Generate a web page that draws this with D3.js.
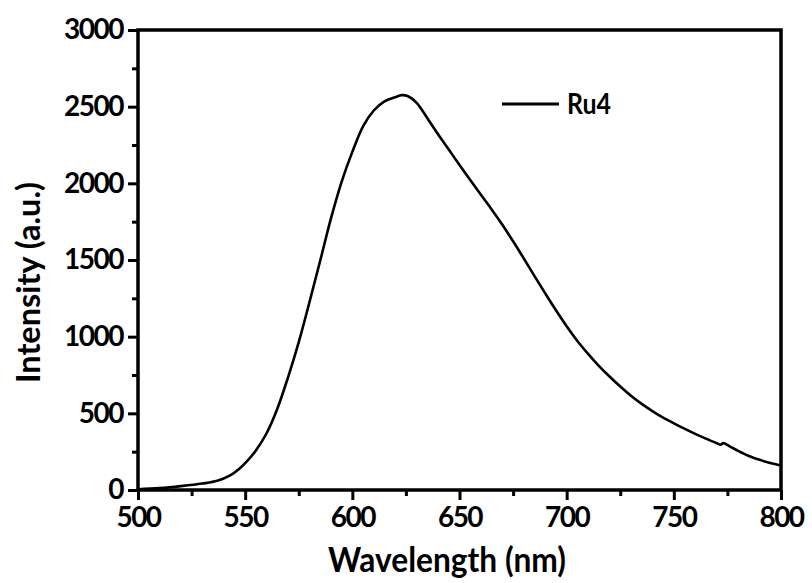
<!DOCTYPE html>
<html>
<head>
<meta charset="utf-8">
<script src="https://cdn.jsdelivr.net/npm/d3@7"></script>
<style>
  body { margin: 0; background: #fff; }
  text { font-family: Lato, "Open Sans", sans-serif; font-weight: bold; fill: #000; }
</style>
</head>
<body>
<svg id="chart" width="812" height="583"></svg>
<script>
// emission spectrum of Ru4
const wavelength = [500, 510, 520, 530, 537, 543, 547, 551, 555, 560, 565, 570, 575, 580, 585, 590, 595, 600, 605, 610, 615, 620, 623, 626, 630, 635, 640, 645, 650, 655, 660, 665, 670, 675, 680, 685, 690, 695, 700, 705, 710, 715, 720, 725, 730, 735, 740, 745, 750, 755, 760, 765, 770, 772, 773, 776, 780, 785, 790, 795, 800];
const intensity = [5, 12, 25, 42, 60, 95, 135, 190, 258, 370, 530, 735, 965, 1225, 1495, 1770, 2010, 2205, 2372, 2475, 2535, 2562, 2575, 2568, 2525, 2425, 2320, 2220, 2120, 2022, 1925, 1830, 1730, 1622, 1510, 1395, 1282, 1172, 1068, 972, 888, 810, 740, 675, 615, 562, 515, 472, 435, 400, 366, 335, 305, 296, 306, 285, 255, 222, 197, 176, 160];
const xTicks = [500, 550, 600, 650, 700, 750, 800];
const xMinor = [525, 575, 625, 675, 725, 775];
const yTicks = [0, 500, 1000, 1500, 2000, 2500, 3000];
const yMinor = [250, 750, 1250, 1750, 2250, 2750];
const seriesName = "Ru4";

const data = wavelength.map((w, i) => ({ w: w, v: intensity[i] }));

const margin = { top: 30, right: 31, bottom: 93, left: 138 };
const width = 812 - margin.left - margin.right;
const height = 583 - margin.top - margin.bottom;

const svg = d3.select("#chart")
  .append("g")
  .attr("transform", "translate(" + margin.left + "," + margin.top + ")");

const x = d3.scaleLinear().domain([500, 800]).range([0, width]);
const y = d3.scaleLinear().domain([0, 3000]).range([height, 0]);

// minor ticks
svg.append("g")
  .attr("transform", "translate(0," + height + ")")
  .call(d3.axisBottom(x).tickValues(xMinor).tickSize(6).tickFormat(""))
  .call((g) => g.select(".domain").remove())
  .selectAll("line").attr("stroke-width", 3);
svg.append("g")
  .call(d3.axisLeft(y).tickValues(yMinor).tickSize(6).tickFormat(""))
  .call((g) => g.select(".domain").remove())
  .selectAll("line").attr("stroke-width", 3);

// major ticks + labels
const xAxis = svg.append("g")
  .attr("transform", "translate(0," + height + ")")
  .call(d3.axisBottom(x).tickValues(xTicks).tickFormat(d3.format("d")).tickSize(10).tickPadding(7));
const yAxis = svg.append("g")
  .call(d3.axisLeft(y).tickValues(yTicks).tickFormat(d3.format("d")).tickSize(10).tickPadding(5));

[xAxis, yAxis].forEach((g) => {
  g.selectAll("line").attr("stroke-width", 3);
  g.select(".domain").remove();
  g.selectAll("text")
    .style("font-family", 'Lato, "Open Sans", sans-serif')
    .style("font-weight", "bold")
    .style("font-size", "28px")
    .style("letter-spacing", "-1.5px");
});

// frame
svg.append("rect")
  .attr("x", 0)
  .attr("y", 0)
  .attr("width", width)
  .attr("height", height)
  .attr("fill", "none")
  .attr("stroke", "#000")
  .attr("stroke-width", 3.5);

// spectrum
const line = d3.line()
  .x((d) => x(d.w))
  .y((d) => y(d.v))
  .curve(d3.curveCatmullRom.alpha(0.5));

svg.append("path")
  .datum(data)
  .attr("fill", "none")
  .attr("stroke", "#000")
  .attr("stroke-width", 2.6)
  .attr("d", line);

// legend
svg.append("line")
  .attr("x1", 364)
  .attr("x2", 421)
  .attr("y1", 74)
  .attr("y2", 74)
  .attr("stroke", "#000")
  .attr("stroke-width", 3);
svg.append("text")
  .attr("x", 429)
  .attr("y", 74)
  .attr("dy", "0.36em")
  .attr("textLength", 44)
  .attr("lengthAdjust", "spacingAndGlyphs")
  .style("font-size", "28px")
  .text(seriesName);

// axis titles
svg.append("text")
  .attr("x", 190)
  .attr("y", 542)
  .attr("textLength", 238)
  .attr("lengthAdjust", "spacingAndGlyphs")
  .style("font-size", "35px")
  .text("Wavelength (nm)");

svg.append("text")
  .attr("transform", "rotate(-90)")
  .attr("x", -353)
  .attr("y", -110)
  .attr("dy", "0.36em")
  .attr("textLength", 201)
  .attr("lengthAdjust", "spacingAndGlyphs")
  .style("font-size", "33px")
  .text("Intensity (a.u.)");
</script>
</body>
</html>
